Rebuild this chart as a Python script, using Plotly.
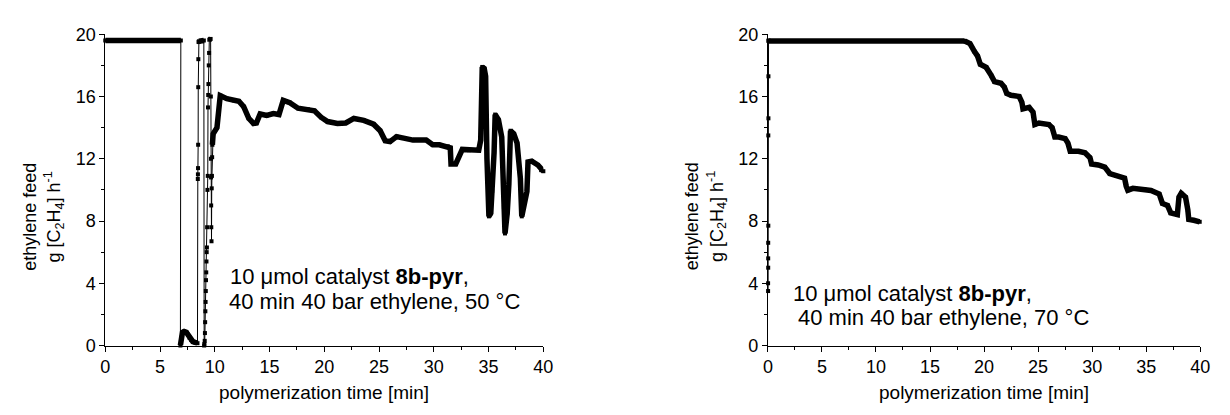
import plotly.graph_objects as go

# ---------------- data: left panel (50 °C) ----------------
L_plateau1_t = [0.0, 6.9]
L_plateau1_v = [19.6, 19.6]
L_dip_t = [6.86, 6.95, 7.05, 7.2, 7.4, 7.55, 7.7, 7.85, 8.0, 8.2, 8.42]
L_dip_v = [0.0, 0.5, 0.85, 0.9, 0.85, 0.7, 0.5, 0.35, 0.25, 0.2, 0.15]
L_rise1_t = [8.45, 8.46, 8.47, 8.48, 8.49, 8.5, 8.52]
L_rise1_v = [10.7, 11.0, 11.4, 12.9, 16.6, 18.4, 19.5]
L_plateau2_t = [8.55, 9.0]
L_plateau2_v = [19.55, 19.6]
L_rise2_t = [9.03, 9.05, 9.08, 9.1, 9.12, 9.14, 9.16, 9.18, 9.2, 9.22, 9.24, 9.26, 9.28, 9.3,
             9.33, 9.36, 9.38, 9.4, 9.42, 9.45, 9.48]
L_rise2_v = [0.0, 0.1, 0.3, 0.8, 1.5, 2.2, 2.8, 3.5, 4.2, 4.7, 5.4, 6.0, 6.3, 7.6,
             10.0, 10.9, 15.3, 16.1, 16.8, 18.0, 18.8]
L_plateau3_t = [9.5, 9.62]
L_plateau3_v = [19.65, 19.7]
L_fall_t = [9.64, 9.65, 9.66, 9.67, 9.68, 9.7, 9.72, 9.74, 9.76]
L_fall_v = [16.0, 12.0, 10.8, 9.0, 7.6, 6.7, 10.1, 10.9, 12.1]
L_main_t = [9.78, 9.85, 10.2, 10.5, 11.1, 11.74, 12.2, 12.64, 13.1, 13.54, 13.8, 14.14, 14.74,
            15.35, 15.86, 16.25, 16.85, 17.6, 18.5, 19.1, 19.7, 20.3, 21.2, 21.96, 22.7, 23.6,
            24.5, 25.1, 25.56, 26.0, 26.6, 28.1, 29.3, 29.9, 30.5, 31.27, 31.5, 31.57, 32.0,
            32.6, 33.2, 34.1, 34.28, 34.35, 34.42, 34.6, 34.73, 34.85, 34.9, 35.03, 35.2, 35.33,
            35.5, 35.6, 35.9, 36.2, 36.4, 36.5, 36.7, 36.85, 37.0, 37.3, 37.6, 37.9, 38.03,
            38.3, 38.5, 38.6, 38.94, 39.5, 39.8, 40.0]
L_main_v = [12.9, 13.6, 14.0, 16.06, 15.86, 15.75, 15.7, 15.35, 14.6, 14.27, 14.3, 14.88, 14.78,
            14.9, 14.84, 15.75, 15.6, 15.25, 15.18, 15.08, 14.67, 14.39, 14.27, 14.3, 14.59, 14.47,
            14.22, 13.8, 13.16, 13.1, 13.42, 13.2, 13.2, 12.9, 12.9, 12.8, 12.7, 11.67, 11.67,
            12.6, 12.55, 12.55, 13.2, 16.0, 17.9, 17.8, 17.3, 12.0, 10.55, 8.3, 8.5, 9.94,
            12.4, 14.84, 14.5, 13.4, 8.9, 7.2, 8.5, 10.35, 13.8, 13.6, 13.0, 10.75, 8.3,
            9.3, 9.9, 11.8, 11.85, 11.6, 11.27, 11.2]

# ---------------- data: right panel (70 °C) ----------------
R_start_t = [0.02, 0.02, 0.03, 0.03, 0.03, 0.04, 0.04, 0.05, 0.05, 0.06]
R_start_v = [3.5, 4.0, 5.0, 5.6, 6.6, 7.7, 13.5, 14.6, 17.3, 19.6]
R_plateau_t = [0.06, 18.2]
R_plateau_v = [19.57, 19.57]
R_decl_t = [18.2, 18.7, 19.1, 19.4, 19.65, 20.2, 20.66, 20.97, 21.57, 21.88, 22.1, 22.5, 23.25,
            23.5, 23.6, 24.17, 24.53, 24.7, 25.08, 26.0, 26.3, 26.55, 26.9, 27.5, 27.76, 27.97,
            28.74, 29.34, 29.8, 29.95, 30.56, 31.17, 31.63, 32.24, 33.0, 33.15, 33.3, 33.77,
            34.83, 35.44, 36.2, 36.5, 36.97, 37.27, 37.88, 38.03, 38.24, 38.64, 38.85, 38.94,
            39.4, 39.95]
R_decl_v = [19.57, 19.4, 18.9, 18.6, 18.07, 17.87, 17.36, 16.95, 16.85, 16.6, 16.2, 16.08, 16.0,
            15.63, 15.2, 15.3, 15.0, 14.2, 14.3, 14.2, 14.0, 13.4, 13.4, 13.3, 13.0, 12.48,
            12.48, 12.38, 12.07, 11.66, 11.6, 11.46, 11.05, 10.9, 10.75, 10.24, 9.98, 10.1,
            10.04, 9.96, 9.74, 9.13, 9.0, 8.52, 8.41, 9.53, 9.78, 9.53, 8.72, 8.1,
            8.05, 7.95]

x_ticks = [0, 5, 10, 15, 20, 25, 30, 35, 40]
y_ticks = [0, 4, 8, 12, 16, 20]
x_title = "polymerization time [min]"
y_title1 = "ethylene feed"
y_title2 = "g [C<sub>2</sub>H<sub>4</sub>] h<sup>-1</sup>"
note_line1 = "10 \u03bcmol catalyst <b>8b-pyr</b>,"
note_left_line2 = "40 min 40 bar ethylene, 50 \u00b0C"
note_right_line2 = "40 min 40 bar ethylene, 70 \u00b0C"

FONT = "Liberation Sans, Arial, sans-serif"
W, H = 1230, 415

fig = go.Figure()

def add_panel(segments, thick_flags, xa, ya):
    all_t, all_v = [], []
    for (t, v) in segments:
        all_t += t
        all_v += v
    # thin connecting line with square markers (whole recording)
    fig.add_trace(go.Scatter(x=all_t, y=all_v, mode="lines+markers", xaxis=xa, yaxis=ya,
                             line=dict(color="black", width=1),
                             marker=dict(symbol="square", size=4, color="black"),
                             cliponaxis=False, showlegend=False, hoverinfo="skip"))
    # dense stretches of the recording drawn as a heavy stroke
    for (t, v), thick in zip(segments, thick_flags):
        if thick:
            fig.add_trace(go.Scatter(x=t, y=v, mode="lines", xaxis=xa, yaxis=ya,
                                     line=dict(color="black", width=5.5),
                                     cliponaxis=False, showlegend=False, hoverinfo="skip"))

add_panel([(L_plateau1_t, L_plateau1_v), (L_dip_t, L_dip_v), (L_rise1_t, L_rise1_v),
           (L_plateau2_t, L_plateau2_v), (L_rise2_t, L_rise2_v), (L_plateau3_t, L_plateau3_v),
           (L_fall_t, L_fall_v), (L_main_t, L_main_v)],
          [True, True, False, True, False, True, False, True], "x", "y")
add_panel([(R_start_t, R_start_v), (R_plateau_t, R_plateau_v), (R_decl_t, R_decl_v)],
          [False, True, True], "x2", "y2")

ydom = [62.5 / H, 389.5 / H]
xdomL = [101.5 / W, 545 / W]
xdomR = [772.3 / W, 1210 / W]

axis_common = dict(showline=True, linecolor="black", linewidth=1, showgrid=False, zeroline=False,
                   ticks="outside", ticklen=5, tickwidth=1, tickcolor="black",
                   tickfont=dict(family=FONT, size=18, color="black"),
                   minor=dict(ticks="outside", ticklen=3, tickwidth=1, tickcolor="black"),
                   fixedrange=True)

fig.update_layout(
    width=W, height=H, margin=dict(l=0, r=0, t=0, b=0),
    paper_bgcolor="white", plot_bgcolor="white",
    xaxis=dict(domain=xdomL, range=[0, 40], tickvals=x_ticks, anchor="y",
               minor_dtick=2.5, minor_tick0=0, **axis_common),
    yaxis=dict(domain=ydom, range=[0, 20], tickvals=y_ticks, anchor="x",
               minor_dtick=2, minor_tick0=0, **axis_common),
    xaxis2=dict(domain=xdomR, range=[0, 40], tickvals=x_ticks, anchor="y2",
                minor_dtick=2.5, minor_tick0=0, **axis_common),
    yaxis2=dict(domain=ydom, range=[0, 20], tickvals=y_ticks, anchor="x2",
                minor_dtick=2, minor_tick0=0, **axis_common),
)

def px(xp):
    return xp / W

def py(yp):
    return (H - yp) / H

ann = []
for cx, axl in [((101.5 + 545) / 2, 101.5), ((772.3 + 1210) / 2, 772.3)]:
    ann.append(dict(x=px(cx), y=py(402), xref="paper", yref="paper", text=x_title,
                    showarrow=False, xanchor="center", yanchor="middle",
                    font=dict(family=FONT, size=19, color="black")))
    ann.append(dict(x=px(axl - 77), y=py(217), xref="paper", yref="paper", text=y_title1,
                    showarrow=False, textangle=-90, xanchor="center", yanchor="middle",
                    font=dict(family=FONT, size=18, color="black")))
    ann.append(dict(x=px(axl - 52), y=py(217), xref="paper", yref="paper", text=y_title2,
                    showarrow=False, textangle=-90, xanchor="center", yanchor="middle",
                    font=dict(family=FONT, size=18, color="black")))

for (x1, y1, t1), (x2, y2, t2) in [((226, 280, note_line1), (224.5, 306.7, note_left_line2)),
                                   ((796, 297.5, note_line1), (801, 323.3, note_right_line2))]:
    ann.append(dict(x=px(x1), y=py(y1), xref="paper", yref="paper", text=t1, showarrow=False,
                    xanchor="left", yanchor="middle", font=dict(family=FONT, size=22, color="black")))
    ann.append(dict(x=px(x2), y=py(y2), xref="paper", yref="paper", text=t2, showarrow=False,
                    xanchor="left", yanchor="middle", font=dict(family=FONT, size=22, color="black")))

fig.update_layout(annotations=ann)
fig.write_html("out.html", config={"displayModeBar": False},
               post_script="document.body.style.margin='0px';document.body.style.overflow='hidden';")
